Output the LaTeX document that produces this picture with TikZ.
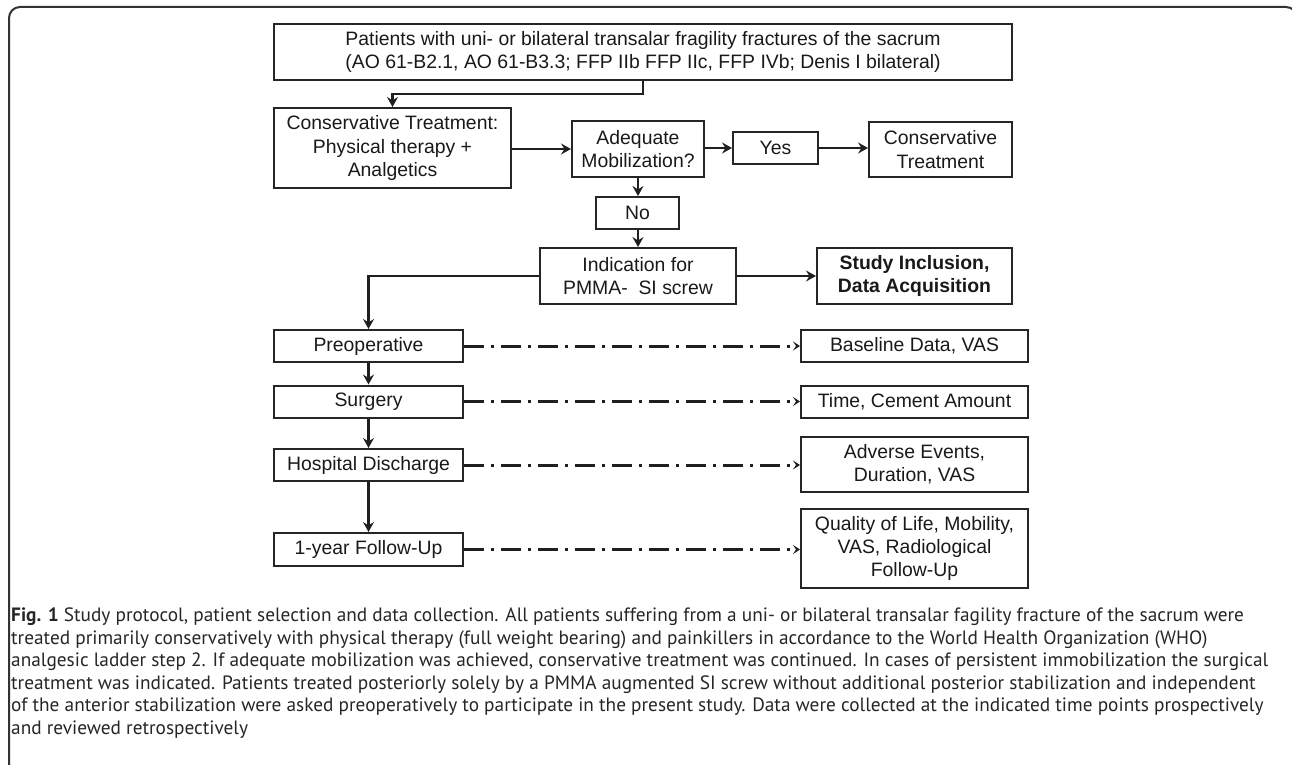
\documentclass[tikz,border=0pt]{standalone}
\usepackage{fontspec}
\setmainfont{Liberation Sans}
\newfontfamily\capfont{PT Sans}
\usetikzlibrary{arrows.meta}
\begin{document}
\begin{tikzpicture}[x=1pt,y=-1pt,
  box/.style={draw=black!85, line width=2pt, inner sep=0pt, align=center,
    font=\fontsize{19.4}{23.3}\selectfont, text=black!90},
  arr/.style={draw=black!88, line width=2.6pt, -{Stealth[length=10pt,width=11pt,inset=3.5pt]}},
  ddarr/.style={draw=black!88, line width=3pt, dash pattern=on 20pt off 7pt on 3pt off 7pt,
    -{Stealth[length=7pt,width=9pt,inset=3pt]}},
  frame/.style={draw=black!80, line width=2pt, rounded corners=11pt}]
\useasboundingbox (0,0) rectangle (1292,765);
\draw[frame] (9,800) -- (9,7) -- (1297,7) -- (1297,800);

\node[box, minimum width=738pt, minimum height=56pt] (top) at (643,52)
  {Patients with uni- or bilateral transalar fragility fractures of the sacrum\\(AO 61-B2.1, AO 61-B3.3; FFP IIb FFP IIc, FFP IVb; Denis I bilateral)};
\node[box, minimum width=237pt, minimum height=80pt] (cons) at (392.5,148)
  {Conservative Treatment:\\Physical therapy +\\Analgetics};
\node[box, minimum width=132pt, minimum height=56pt] (ade) at (638,149)
  {Adequate\\Mobilization?};
\node[box, minimum width=85pt, minimum height=32pt] (yes) at (775.5,148) {Yes};
\node[box, minimum width=143pt, minimum height=55pt] (consr) at (940.5,149.5)
  {Conservative\\Treatment};
\node[box, minimum width=83pt, minimum height=32pt] (no) at (637.5,213) {No};
\node[box, minimum width=196pt, minimum height=56pt] (ind) at (638,276)
  {Indication for\\PMMA-\ \ SI screw};
\node[box, minimum width=195pt, minimum height=56pt, font=\bfseries\fontsize{19.4}{23.3}\selectfont] (study) at (914.5,276)
  {Study Inclusion,\\Data Acquisition};

\node[box, minimum width=189pt, minimum height=32pt] (pre) at (368.5,346) {Preoperative};
\node[box, minimum width=189pt, minimum height=32pt] (sur) at (368.5,401.5) {Surgery};
\node[box, minimum width=189pt, minimum height=32pt] (hos) at (368.5,465) {Hospital Discharge};
\node[box, minimum width=189pt, minimum height=33pt] (fol) at (368.5,549.5) {1-year Follow-Up};

\node[box, minimum width=227pt, minimum height=32pt] (base) at (914.5,346) {Baseline Data, VAS};
\node[box, minimum width=227pt, minimum height=32pt] (tim) at (914.5,401.5) {Time, Cement Amount};
\node[box, minimum width=227pt, minimum height=55pt] (adv) at (914.5,464.5) {Adverse Events,\\Duration, VAS};
\node[box, minimum width=227pt, minimum height=79pt] (qol) at (914.5,548.5)
  {Quality of Life, Mobility,\\VAS, Radiological\\Follow-Up};

\coordinate (j1) at (392.5,94);
\draw[arr] (top.south) |- (j1) -- (cons.north);
\draw[arr] (cons.east |- ade.west) -- (ade.west);
\draw[arr] (ade.east |- yes.west) -- (yes.west);
\draw[arr] (yes.east) -- (consr.west |- yes.east);
\draw[arr] (ade.south) -- (no.north -| ade.south);
\draw[arr] (no.south -| ind.north) -- (ind.north);
\draw[arr] (ind.east) -- (study.west);
\draw[arr] (ind.west) -| (pre.north);
\draw[arr] (pre.south) -- (sur.north);
\draw[arr] (sur.south) -- (hos.north);
\draw[arr] (hos.south) -- (fol.north);

\draw[ddarr] (pre.east) -- (base.west);
\draw[ddarr] (sur.east) -- (tim.west);
\draw[ddarr] (hos.east) -- (adv.west |- hos.east);
\draw[ddarr] (fol.east) -- (qol.west |- fol.east);

\node[anchor=north west, inner sep=0pt, align=left, text=black!85,
  font=\capfont\fontsize{19.3}{22.5}\selectfont] (cap) at (11,608)
  {\textbf{Fig. 1} Study protocol, patient selection and data collection. All patients suffering from a uni- or bilateral transalar fagility fracture of the sacrum were\\
   treated primarily conservatively with physical therapy (full weight bearing) and painkillers in accordance to the World Health Organization (WHO)\\
   analgesic ladder step 2. If adequate mobilization was achieved, conservative treatment was continued. In cases of persistent immobilization the surgical\\
   treatment was indicated. Patients treated posteriorly solely by a PMMA augmented SI screw without additional posterior stabilization and independent\\
   of the anterior stabilization were asked preoperatively to participate in the present study. Data were collected at the indicated time points prospectively\\
   and reviewed retrospectively};
\end{tikzpicture}
\end{document}
